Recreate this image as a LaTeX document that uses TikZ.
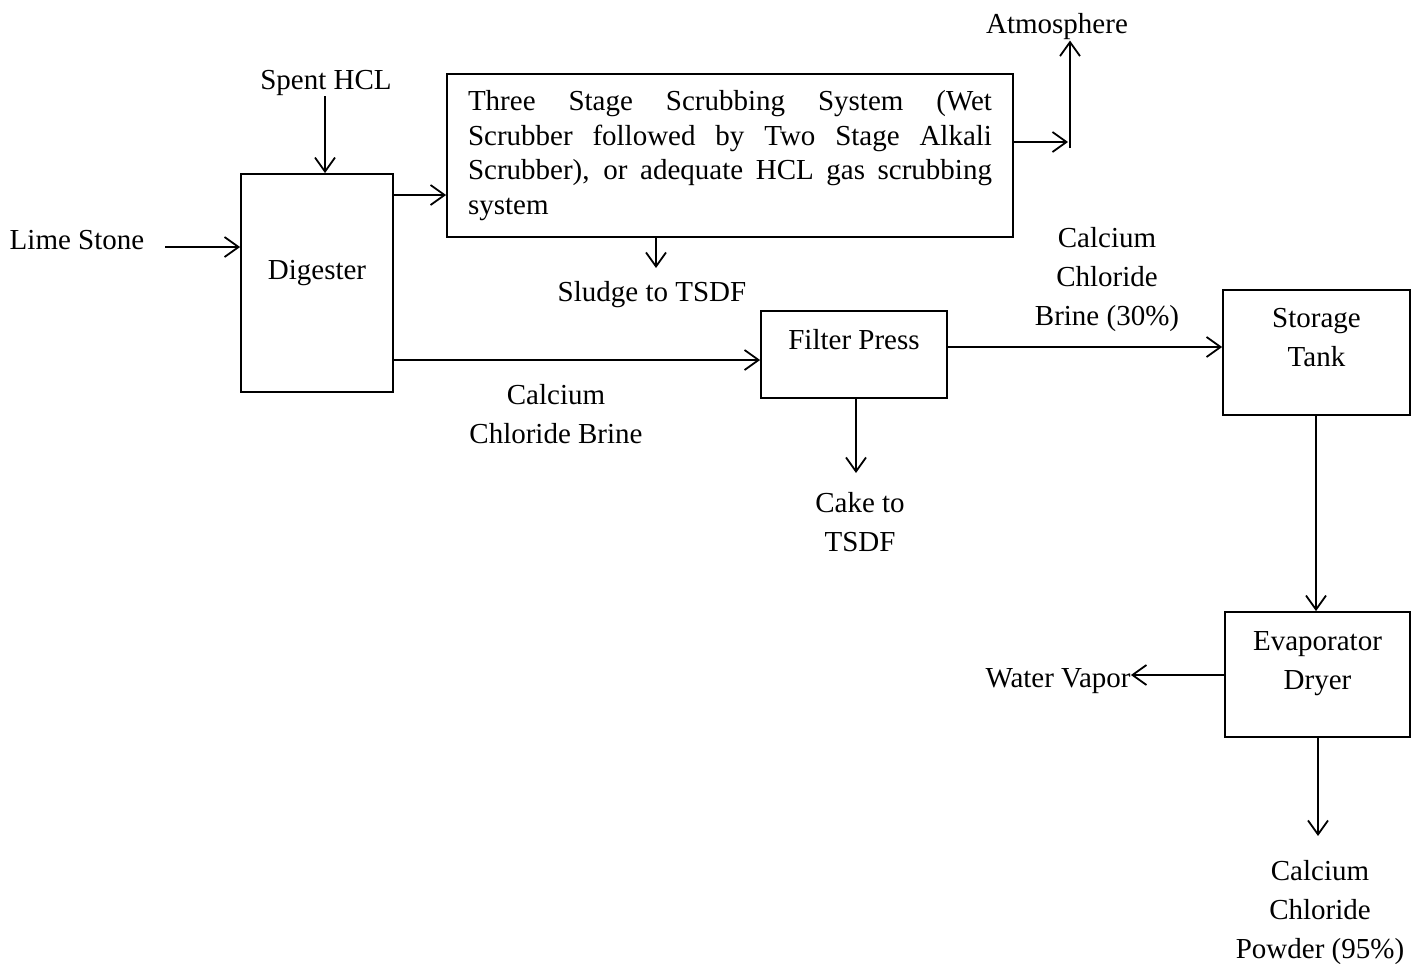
\documentclass[tikz,border=0pt]{standalone}
\usepackage{fontspec}
\setmainfont{Liberation Serif}
\usetikzlibrary{positioning,arrows.meta}

\begin{document}
\begin{tikzpicture}[
  x=0.5pt, y=-0.5pt,
  every node/.style={font=\fontsize{14.5}{19.5}\selectfont, inner sep=0pt},
  unit/.style={draw, line width=0.9pt, align=center, text height=10pt},
  txt/.style={align=center},
  arr/.style={-{Straight Barb[length=7pt, width=10pt, line width=0.9pt]}, line width=0.9pt}
]
\useasboundingbox (0,0) rectangle (1420,964);
% process units
\node[unit, minimum width=76pt, minimum height=109pt, text depth=14pt] (dig) at (317,283) {Digester};
\node[draw, line width=0.9pt, minimum width=283pt, minimum height=81.5pt, text width=262pt, align=justify,
  font=\fontsize{14.5}{17.3}\selectfont] (scrub) at (730,155.5)
  {Three Stage Scrubbing System (Wet\linebreak Scrubber followed by Two Stage Alkali\linebreak Scrubber), or adequate HCL gas scrubbing\linebreak system};
\node[unit, minimum width=93pt, minimum height=43.5pt, text depth=15.5pt] (filt) at (854,354.5) {Filter Press};
\node[unit, minimum width=93.5pt, minimum height=62.5pt, text height=20pt, text depth=6.5pt] (tank) at (1316.5,352.5) {Storage\\Tank};
\node[unit, minimum width=92.5pt, minimum height=62.5pt, text height=20pt, text depth=5.5pt] (evap) at (1317.5,674.5) {Evaporator\\Dryer};
% streams in and out
\node[txt] (lime) at (77,240) {Lime Stone};
\node[txt] (hcl) at (326,83) {Spent HCL};
\node[txt] (atm) at (1057,27) {Atmosphere};
\node[txt] (sludge) at (652,295) {Sludge to TSDF};
\node[txt] (cake) at (860,522) {Cake to\\TSDF};
\node[txt] (vapor) at (1058,681) {Water Vapor};
\node[txt] (powder) at (1320,913) {Calcium\\Chloride\\Powder (95\%)};
\node[txt] (brine) at (556,414) {Calcium\\Chloride Brine};
\node[txt] (brine30) at (1107,280) {Calcium\\Chloride\\Brine (30\%)};
\coordinate (junc) at (1070,142);
% connectors
\draw[arr] (165,247) -- (dig.west |- 165,247);
\draw[arr] (hcl.south -| 325,0) -- (dig.north -| 325,0);
\draw[arr] (dig.east |- 0,195) -- (scrub.west |- 0,195);
\draw[arr] (scrub.east |- junc) -- ([xshift=-1pt]junc);
\draw[arr] ([yshift=-3pt]junc) -- (atm.south -| junc);
\draw[arr] (scrub.south -| 656,0) -- (656,268);
\draw[arr] (dig.east |- 0,360) -- (filt.west |- 0,360);
\draw[arr] (filt.east |- 0,347) -- (tank.west |- 0,347);
\draw[arr] (filt.south -| 856,0) -- (856,473);
\draw[arr] (tank.south -| 1316,0) -- (evap.north -| 1316,0);
\draw[arr] (evap.west |- 0,675) -- (vapor.east |- 0,675);
\draw[arr] (evap.south -| 1318,0) -- (1318,836);
\end{tikzpicture}
\end{document}
